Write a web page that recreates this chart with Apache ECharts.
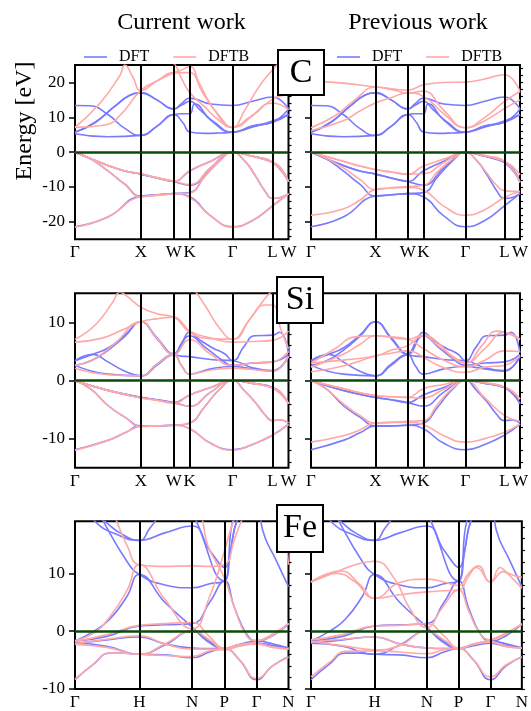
<!DOCTYPE html>
<html><head><meta charset="utf-8">
<script src="https://cdn.jsdelivr.net/npm/echarts@6/dist/echarts.min.js"></script>
<style>html,body{margin:0;padding:0;background:#fff}#c{width:531px;height:711px}</style>
</head><body><div id="c"></div>
<script>
// k-path positions (path units) and labels
const fccTicks = [0, 66, 99, 115, 158, 198, 214];
const fccLabels = ['Γ', 'X', 'W', 'K', 'Γ', 'L', 'W'];
const bccTicks = [0, 64.5, 117.5, 149.7, 182, 214];
const bccLabels = ['Γ', 'H', 'N', 'P', 'Γ', 'N'];

// energy axes
const C_range = [-25, 25];
const C_major = [-20, -10, 0, 10, 20];
const C_minor = [-24,-22,-20,-18,-16,-14,-12,-10,-8,-6,-4,-2,0,2,4,6,8,10,12,14,16,18,20,22,24];
const Si_range = [-15, 15];
const Si_major = [-10, 0, 10];
const Si_minor = [-14,-12,-10,-8,-6,-4,-2,0,2,4,6,8,10,12,14];
const Fe_range = [-10, 19];
const Fe_major = [-10, 0, 10];
const Fe_minor = [-10,-8,-6,-4,-2,0,2,4,6,8,10,12,14,16,18];

// ---------- C ----------
const C_DFT = [
 [[0,-21.4],[33,-18.6],[66,-12.6],[82,-12.3],[99,-11.9],[115,-12.8],[136,-18.3],[158,-21.4],[178,-19.6],[198,-15.4],[214,-11.9]],
 [[0,0],[16,-2],[33,-5.4],[50,-9.2],[66,-12.6],[82,-12.2],[99,-11.9],[115,-11.6],[130,-7],[145,-2.5],[158,0],[170,-2.5],[180,-6.4],[190,-11],[198,-13.3],[206,-13],[214,-11.9]],
 [[0,0],[33,-3.8],[50,-5.4],[66,-6.3],[82,-7.4],[99,-8.4],[115,-9.5],[136,-4.5],[158,0],[178,-1.2],[198,-2.9],[214,-8.5]],
 [[0,0],[33,-3.8],[50,-5.4],[66,-6.3],[82,-7.4],[99,-8.4],[115,-5.4],[136,-2.6],[158,0],[178,-1.2],[198,-2.9],[206,-4.5],[214,-8.5]],
 [[0,5.3],[33,4.4],[66,4.8],[82,7.4],[99,10.8],[108,8.5],[115,5.8],[130,5.4],[145,5.5],[158,5.7],[178,7.4],[198,8.6],[214,10.8]],
 [[0,13.4],[15,13.3],[33,10.8],[50,6.8],[66,4.8],[82,7.4],[99,10.8],[107,11],[115,11],[120,13.9],[136,9.2],[158,5.7],[178,7.2],[198,8.9],[214,10.8]],
 [[0,5.7],[20,8.5],[40,13.2],[55,16.3],[66,17],[82,15],[99,12.4],[107,14],[115,15.5],[136,13.8],[158,13.4],[178,14.6],[198,15.8],[214,12.4]],
 [[0,5.7],[20,8.5],[40,13.2],[55,16.3],[66,17],[82,15],[99,12.4],[107,13.5],[115,14.6],[125,12.2],[140,8.5],[158,5.7],[178,7.6],[198,8.6],[214,12.4]]
];
const C_DFTB_current = [
 [[0,-21.5],[33,-18.6],[66,-12.8],[82,-12.4],[99,-12.0],[115,-13.0],[136,-18.3],[158,-21.5],[178,-19.6],[198,-15.5],[214,-12.0]],
 [[0,0],[16,-2],[33,-5.4],[50,-9.3],[66,-12.8],[82,-12.3],[99,-12.0],[115,-11.7],[130,-7],[145,-2.5],[158,0],[170,-2.5],[180,-6.4],[190,-11],[198,-13.3],[206,-13],[214,-12.0]],
 [[0,0],[33,-3.8],[50,-5.4],[66,-6.2],[82,-7.3],[99,-8.3],[115,-9.3],[136,-4.4],[158,0],[178,-1.2],[198,-2.9],[214,-8.4]],
 [[0,0],[33,-3.8],[50,-5.4],[66,-6.2],[82,-7.3],[99,-8.3],[115,-5.3],[136,-2.6],[158,0],[178,-1.2],[198,-2.9],[206,-4.5],[214,-8.4]],
 [[0,7.1],[25,14],[45,22],[50,25],[58,21.5],[66,17.7],[82,20.4],[99,22.8],[107,23.6],[115,24.6],[125,19.5],[140,12],[158,7.1],[175,10],[198,14.1],[214,12.2]],
 [[0,7.1],[30,7.8],[45,10.5],[66,17.7],[82,20.4],[99,22.8],[107,22.8],[115,22.8],[128,17],[143,11],[158,7.1],[170,12],[185,19],[198,23.6],[206,26]],
 [[0,27],[66,27],[90,26.5],[99,25.5],[107,21],[115,17.1],[130,13],[145,9],[158,7.1],[178,10.5],[198,15.2],[214,16.5]]
];
const C_DFTB_previous = [
 [[0,-18.1],[33,-16.3],[50,-13.8],[66,-10.7],[82,-10.3],[99,-10.1],[115,-10.9],[136,-15.5],[158,-18.1],[178,-16.5],[198,-13.0],[214,-11.3]],
 [[0,0],[16,-1.8],[33,-4.5],[50,-7.8],[66,-10.7],[82,-10.2],[99,-9.9],[115,-9.5],[130,-5.5],[145,-2],[158,0],[170,-2.5],[180,-6],[190,-9.5],[198,-11.1],[214,-11.3]],
 [[0,0],[33,-2.6],[50,-4],[66,-5.0],[82,-5.7],[99,-6.3],[115,-6.2],[136,-3],[158,0],[178,-1],[198,-2.6],[214,-8.8]],
 [[0,0],[33,-2.6],[50,-4],[66,-5.0],[82,-5.7],[99,-6.3],[115,-4.0],[136,-2],[158,0],[178,-1],[198,-2.6],[206,-4],[214,-6.5]],
 [[0,6.2],[33,9],[50,11.8],[66,14.1],[82,15.6],[99,17],[115,16],[136,11],[158,7],[178,9],[198,12.5],[214,15]],
 [[0,7],[25,10.5],[45,15],[66,18.7],[82,18],[99,17],[115,17.5],[136,12],[158,7],[178,10],[198,14.5],[214,17.4]],
 [[0,20.3],[33,19.8],[66,18.7],[82,18.2],[99,17.8],[115,19.3],[136,20],[158,20.1],[178,21],[198,22.2],[214,17.4]]
];

// ---------- Si ----------
const Si_DFT = [
 [[0,-11.9],[33,-10.3],[50,-9],[66,-7.8],[82,-7.8],[99,-7.7],[115,-8.3],[136,-10.8],[158,-11.9],[178,-11],[198,-9.4],[214,-7.5]],
 [[0,0],[16,-1.5],[33,-4.3],[50,-6.3],[66,-7.8],[82,-7.8],[99,-7.7],[115,-7.3],[130,-4.5],[145,-1.5],[158,0],[170,-1.8],[180,-3.6],[190,-5.8],[198,-6.9],[206,-6.8],[214,-7.3]],
 [[0,0],[33,-1.7],[66,-2.9],[82,-3.3],[99,-3.8],[115,-4.4],[136,-2.0],[158,0],[178,-0.5],[198,-1.2],[214,-4.0]],
 [[0,0],[33,-1.7],[66,-2.9],[82,-3.3],[99,-3.8],[115,-2.5],[136,-1.2],[158,0],[178,-0.5],[198,-1.2],[206,-2],[214,-4.0]],
 [[0,2.6],[33,1.1],[66,0.8],[82,2.6],[99,4.4],[107,2.5],[115,1.1],[136,2.0],[158,2.4],[178,2.0],[198,1.6],[214,4.2]],
 [[0,2.6],[16,3.4],[33,5.2],[50,7.6],[66,10.1],[82,7.2],[99,4.5],[115,7.7],[130,5.8],[145,3.8],[158,2.6],[178,3.0],[198,3.2],[214,4.5]],
 [[0,3.4],[18,4.5],[33,5.6],[50,7.8],[66,10.1],[82,7.4],[99,4.6],[107,6.5],[115,8.3],[125,7],[138,5.6],[150,4.6],[158,3.4],[170,6],[180,7.7],[198,7.8],[205,8.3],[214,4.8]],
 [[0,3.4],[18,4.5],[33,3.2],[50,1.6],[66,0.8],[82,2.8],[99,4.4],[107,4.2],[115,4.1],[136,3.6],[158,3.4],[178,2.2],[198,1.7],[214,4.2]]
];
const Si_DFTB_current = [
 [[0,-12.0],[33,-10.3],[50,-9],[66,-7.9],[82,-7.8],[99,-7.7],[115,-8.3],[136,-10.8],[158,-12.0],[178,-11],[198,-9.4],[214,-7.6]],
 [[0,0],[16,-1.5],[33,-4.3],[50,-6.3],[66,-7.9],[82,-7.8],[99,-7.7],[115,-7.3],[130,-4.5],[145,-1.5],[158,0],[170,-1.8],[180,-3.6],[190,-5.8],[198,-6.9],[206,-6.8],[214,-7.3]],
 [[0,0],[33,-1.7],[66,-3.0],[82,-3.4],[99,-3.9],[115,-4.4],[136,-2.0],[158,0],[178,-0.5],[198,-1.3],[214,-4.0]],
 [[0,0],[33,-1.7],[66,-3.0],[82,-3.4],[99,-3.9],[115,-2.5],[136,-1.2],[158,0],[178,-0.5],[198,-1.3],[206,-2],[214,-4.0]],
 [[0,2.1],[33,1.0],[66,0.8],[82,2.8],[99,4.4],[107,2.5],[115,1.1],[136,1.8],[158,2.1],[178,1.9],[198,1.6],[214,4.2]],
 [[0,2.6],[20,3.8],[40,6.4],[66,10.1],[82,7.3],[99,4.5],[115,7.0],[136,4.5],[158,2.6],[178,3.0],[198,3.2],[214,5]],
 [[0,6.6],[25,7.2],[45,8.5],[66,10.1],[82,10.6],[99,10.9],[108,9.8],[115,8.5],[136,7.3],[158,6.6],[178,6.7],[198,6.9],[214,8.5]],
 [[0,7.1],[20,9.5],[38,13.5],[45,15.2],[52,14.5],[66,12.6],[82,11.5],[99,10.9],[115,8.3],[136,7.2],[158,7.1],[175,10.5],[190,14],[198,15.5]],
 [[99,19],[115,16.5],[130,13],[145,9],[158,7.1],[175,10.5],[190,13],[198,13],[206,9],[214,5.5]]
];
const Si_DFTB_previous = [
 [[0,-10.6],[33,-9.5],[50,-8.5],[66,-7.3],[82,-7.2],[99,-7.2],[115,-7.6],[136,-9.5],[158,-10.6],[178,-10],[198,-8.9],[214,-7.5]],
 [[0,0],[16,-1.5],[33,-4.0],[50,-6],[66,-7.3],[82,-7.2],[99,-7.0],[115,-6.9],[130,-4],[145,-1.3],[158,0],[178,-3],[198,-6.0],[214,-7]],
 [[0,0],[33,-1.4],[66,-2.6],[82,-2.8],[99,-2.9],[115,-3.0],[136,-1.5],[158,0],[178,-0.4],[198,-1.1],[214,-3.2]],
 [[0,0],[33,-1.4],[66,-2.6],[82,-2.8],[99,-2.9],[115,-1.4],[136,-0.7],[158,0],[178,-0.4],[198,-1.1],[206,-1.8],[214,-3.2]],
 [[0,1.5],[33,2.5],[66,4.2],[82,4.7],[99,5.1],[107,4.8],[115,4.0],[136,2.2],[158,1.4],[178,2.3],[198,2.6],[214,4.3]],
 [[0,2.3],[33,4.5],[50,6.2],[66,7.7],[82,7.5],[99,7.1],[115,5.5],[136,3.5],[158,2.4],[178,3.5],[198,5.1],[214,5.0]],
 [[0,3.0],[33,3.5],[66,4.2],[82,5.2],[99,6.0],[115,7.7],[130,6],[145,4.2],[158,3.0],[178,5.5],[198,8.3],[214,7.1]],
 [[0,3.0],[25,5.5],[45,7.5],[66,7.7],[82,7.4],[99,7.1],[115,7.8],[130,6.5],[145,4],[158,3.0],[175,6],[190,8.5],[198,8.3],[214,7.1]]
];

// ---------- Fe ----------
const Fe_DFT = [
 [[0,-8.4],[18,-5.8],[35,-3.8],[50,-3.8],[64.5,-4.0],[90,-4.1],[117.5,-4.6],[135,-3.6],[149.7,-3.0],[165,-5],[182,-8.4],[198,-6],[214,-4.4]],
 [[0,-2.1],[32,-2.6],[64.5,-4.0],[90,-2.4],[117.5,0],[135,-1.8],[149.7,-3.0],[165,-2.5],[182,-2.1],[198,-2.5],[214,-2.9]],
 [[0,-1.7],[32,-0.9],[64.5,0.9],[90,1.1],[117.5,1.3],[135,5],[149.7,8.7],[160,4],[172,-0.5],[182,-1.7],[198,-0.8],[214,1.2]],
 [[0,-1.7],[19,0],[35,2.1],[52,6],[64.5,9.8],[90,5],[117.5,0.7],[133,-1.8],[149.7,-2.9],[165,-2.3],[182,-1.7],[198,-2.2],[214,-2.9]],
 [[0,-2.1],[32,-1.5],[64.5,-1.0],[90,-2.2],[117.5,-2.9],[135,-3.0],[149.7,-3.0],[165,-2.3],[182,-2.1],[198,-2.6],[214,-2.9]],
 [[0,24],[20,19],[45,16.5],[64.5,15.7],[90,17],[117.5,18.2],[135,14],[149.7,11],[158,18.9],[170,24],[182,25],[188,17.5],[202,12.1],[214,7.7]],
 [[0,26],[15,21],[30,19],[45,17],[64.5,15.7],[75,17.8],[82,19.5],[95,24],[110,24],[122,18.9],[149.7,8.7],[155,13],[163,19.5],[182,26]],
 [[0,28],[20,22],[28.7,18.9],[52,12.1],[64.5,9.8],[90,8],[117.5,7.5],[135,8.2],[149.7,8.7],[156,14],[163,19.5],[182,26]]
];
const Fe_DFTB_current = [
 [[0,-8.3],[18,-5.8],[35,-3.8],[50,-3.8],[64.5,-4.0],[90,-4.2],[117.5,-4.4],[135,-3.4],[149.7,-3.1],[165,-5],[182,-8.2],[198,-6],[214,-4.5]],
 [[0,-2.3],[32,-2.8],[64.5,-4.0],[90,-2.2],[117.5,0],[135,-1.5],[149.7,-3.2],[165,-2.6],[182,-2.2],[198,-2.7],[214,-3.1]],
 [[0,-1.8],[32,-0.6],[64.5,1.0],[90,1.3],[117.5,1.5],[135,-1],[149.7,-2.9],[165,-2.3],[182,-1.8],[198,-0.5],[214,1.3]],
 [[0,-2.2],[32,-1.4],[64.5,-0.8],[90,-2.2],[117.5,-3.1],[135,-3.1],[149.7,-3.2],[165,-2.4],[182,-2.2],[198,-2.8],[214,-3.1]],
 [[0,-1.6],[19,-0.3],[35,2.5],[52,7],[64.5,11.5],[90,5.5],[117.5,0.4],[135,6],[149.7,13.8],[155,17],[160,19.5],[170,24]],
 [[0,28],[35,22],[42,18.9],[52,14.9],[64.5,11.5],[90,11.2],[117.5,11.3],[135,11.2],[149.7,11.5],[160,16],[168,19.5],[182,24],[200,24],[208.7,18.9],[214,11.5]],
 [[0,24],[64.5,22],[117.5,21],[135,14],[149.7,9.2],[160,4],[172,-0.8],[182,-1.6],[198,-0.7],[214,1.4]]
];
const Fe_DFTB_previous = [
 [[0,-7.9],[18,-5.5],[35,-3.5],[64.5,-3.4],[90,-3.6],[117.5,-3.9],[135,-3.2],[149.7,-3.0],[165,-5],[182,-7.9],[198,-5.8],[214,-4.5]],
 [[0,-1.8],[32,-2.5],[64.5,-3.2],[90,-2.5],[117.5,0],[135,-1.5],[149.7,-2.9],[165,-2.3],[182,-1.8],[198,-2.7],[214,-2.9]],
 [[0,-1.5],[32,-0.6],[64.5,0.9],[90,1.0],[117.5,1.3],[135,-0.8],[149.7,-2.9],[165,-2.2],[182,-1.5],[198,-0.3],[214,1.2]],
 [[0,-1.9],[32,-1.4],[64.5,-1.0],[90,-2.2],[117.5,-2.9],[135,-3.0],[149.7,-3.0],[165,-2.3],[182,-1.9],[198,-2.6],[214,-2.9]],
 [[0,8.5],[25,10.2],[45,11.5],[64.5,12.1],[85,9],[100,4],[117.5,0.6],[133,4],[149.7,7.1],[160,3.5],[170,0],[182,-1.5],[198,-0.5],[214,1.3]],
 [[0,8.5],[25,10],[45,8.5],[64.5,5.7],[90,6.3],[117.5,6.8],[135,7],[149.7,7.1],[160,9.5],[168,11],[182,8.5],[192,11],[200,10],[214,9.3]],
 [[0,8.5],[30,10.4],[50,8],[64.5,5.7],[90,8.4],[117.5,9.0],[135,8.5],[149.7,7.9],[160,10],[170,11.3],[182,8.5],[195,10.3],[205,9],[214,7.4]]
];

const panels = [
 {left:75, top:65, height:174.3, ticks:fccTicks, labels:fccLabels, range:C_range, major:C_major, minor:C_minor, dft:C_DFT, dftb:C_DFTB_current, showY:true},
 {left:311, top:65, height:174.3, ticks:fccTicks, labels:fccLabels, range:C_range, major:C_major, minor:C_minor, dft:C_DFT, dftb:C_DFTB_previous, showY:false},
 {left:75, top:293.3, height:174.4, ticks:fccTicks, labels:fccLabels, range:Si_range, major:Si_major, minor:Si_minor, dft:Si_DFT, dftb:Si_DFTB_current, showY:true},
 {left:311, top:293.3, height:174.4, ticks:fccTicks, labels:fccLabels, range:Si_range, major:Si_major, minor:Si_minor, dft:Si_DFT, dftb:Si_DFTB_previous, showY:false},
 {left:75, top:521.3, height:173.4, ticks:bccTicks, labels:bccLabels, range:Fe_range, major:Fe_major, minor:Fe_minor, dft:Fe_DFT, dftb:Fe_DFTB_current, showY:true},
 {left:311, top:521.3, height:173.4, ticks:bccTicks, labels:bccLabels, range:Fe_range, major:Fe_major, minor:Fe_minor, dft:Fe_DFT, dftb:Fe_DFTB_previous, showY:false}
];

const FONT = '"Liberation Serif", "DejaVu Serif", serif';
const BLUE = '#7a7aff', PINK = '#ffa8a8';

const grid = [], xAxis = [], yAxis = [], series = [];
panels.forEach((p, i) => {
  grid.push({left:p.left, top:p.top, width:213.5, height:p.height, show:true, borderColor:'#000', borderWidth:2, backgroundColor:'transparent'});
  xAxis.push({gridIndex:i, type:'value', min:0, max:214,
    axisLine:{show:false}, axisTick:{show:false}, splitLine:{show:false},
    axisLabel:{customValues:p.ticks, margin:5, fontFamily:FONT, fontSize:17, color:'#000',
      formatter:(v)=>{const k=p.ticks.indexOf(v); return k>=0?p.labels[k]:'';}}});
  yAxis.push({gridIndex:i, type:'value', min:p.range[0], max:p.range[1],
    axisLine:{show:false}, splitLine:{show:false},
    axisTick:{show:true, inside:false, length:6, customValues:p.major, lineStyle:{color:'#000', width:1.5}},
    axisLabel:{show:p.showY, customValues:p.major, margin:10, fontFamily:FONT, fontSize:17, color:'#000'}});
  yAxis.push({gridIndex:i, type:'value', min:p.range[0], max:p.range[1],
    axisLine:{show:false}, splitLine:{show:false},
    axisTick:{show:true, inside:false, length:3, customValues:p.minor, lineStyle:{color:'#000', width:1.2}},
    axisLabel:{show:false}});
  const mk = (bands, color, name, z) => bands.forEach(b => series.push({
    type:'line', name, xAxisIndex:i, yAxisIndex:2*i, data:b, smooth:0.5,
    symbol:'none', showSymbol:false, clip:true, silent:true, animation:false, z,
    lineStyle:{color, width:1.6}, itemStyle:{color}}));
  mk(p.dft, BLUE, 'DFT', 2);
  mk(p.dftb, PINK, 'DFTB', 3);
  series.push({type:'line', xAxisIndex:i, yAxisIndex:2*i, data:[], silent:true, animation:false, z:5,
    markLine:{silent:true, animation:false, symbol:['none','none'], label:{show:false},
      lineStyle:{color:'#000', width:2, type:'solid'},
      data:p.ticks.slice(1,-1).map(v=>({xAxis:v}))}});
  series.push({type:'line', xAxisIndex:i, yAxisIndex:2*i, data:[], silent:true, animation:false, z:6,
    markLine:{silent:true, animation:false, symbol:['none','none'], label:{show:false},
      lineStyle:{color:'#0b4a0b', width:2.5, type:'solid'},
      data:[{yAxis:0}]}});
});

const legendBase = {data:['DFT','DFTB'], top:44, icon:'rect', itemWidth:23, itemHeight:1.6, itemGap:24, selectedMode:false,
  textStyle:{fontFamily:FONT, fontSize:16, color:'#000', padding:[0,0,0,7]}};

const option = {
  backgroundColor:'#fff',
  animation:false,
  grid, xAxis, yAxis, series,
  legend:[Object.assign({left:79}, legendBase), Object.assign({left:332}, legendBase)],
  graphic:[
    {type:'text', x:181.5, y:23, z:100, style:{text:'Current work', font:'24px '+FONT, fill:'#000', align:'center', verticalAlign:'middle', textAlign:'center', textVerticalAlign:'middle'}},
    {type:'text', x:418, y:23, z:100, style:{text:'Previous work', font:'24px '+FONT, fill:'#000', align:'center', verticalAlign:'middle', textAlign:'center', textVerticalAlign:'middle'}},
    {type:'text', x:25, y:121, rotation:Math.PI/2, z:100, style:{text:'Energy [eV]', font:'24px '+FONT, fill:'#000', align:'center', verticalAlign:'middle', textAlign:'center', textVerticalAlign:'middle'}},
    {type:'rect', z:100, shape:{x:278, y:50, width:46, height:45}, style:{fill:'#fff', stroke:'#000', lineWidth:2}},
    {type:'text', x:301, y:73, z:101, style:{text:'C', font:'34px '+FONT, fill:'#000', align:'center', verticalAlign:'middle', textAlign:'center', textVerticalAlign:'middle'}},
    {type:'rect', z:100, shape:{x:277, y:277, width:46, height:46}, style:{fill:'#fff', stroke:'#000', lineWidth:2}},
    {type:'text', x:300, y:300, z:101, style:{text:'Si', font:'34px '+FONT, fill:'#000', align:'center', verticalAlign:'middle', textAlign:'center', textVerticalAlign:'middle'}},
    {type:'rect', z:100, shape:{x:277, y:505, width:46, height:47}, style:{fill:'#fff', stroke:'#000', lineWidth:2}},
    {type:'text', x:300, y:528.5, z:101, style:{text:'Fe', font:'34px '+FONT, fill:'#000', align:'center', verticalAlign:'middle', textAlign:'center', textVerticalAlign:'middle'}}
  ]
};
const chart = echarts.init(document.getElementById('c'), null, {renderer:'canvas', width:531, height:711});
chart.setOption(option);
</script></body></html>
